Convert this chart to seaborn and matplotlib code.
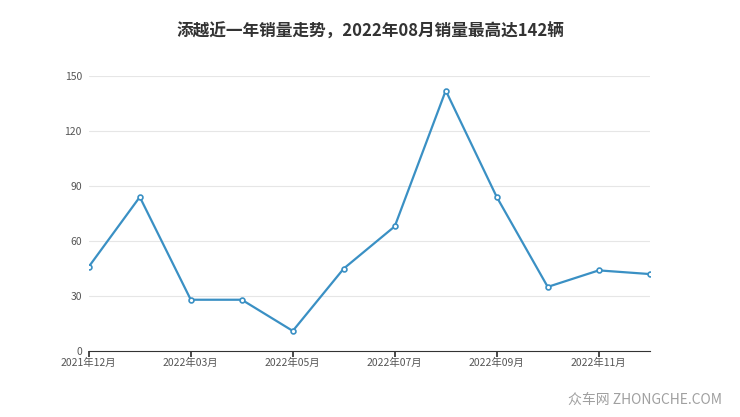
import matplotlib
matplotlib.use('Agg')
import matplotlib.pyplot as plt
import seaborn as sns
import pandas as pd

months = ['2021年12月', '2022年02月', '2022年03月', '2022年04月', '2022年05月', '2022年06月',
          '2022年07月', '2022年08月', '2022年09月', '2022年10月', '2022年11月', '2022年12月']
sales = [46, 84, 28, 28, 11, 45, 68, 142, 84, 35, 44, 42]
tick_labels = ['2021年12月', '2022年03月', '2022年05月', '2022年07月', '2022年09月', '2022年11月']
yticks = [0, 30, 60, 90, 120, 150]

sns.set_theme(style='white')
plt.rcParams['font.family'] = ['Noto Sans CJK SC', 'DejaVu Sans']

df = pd.DataFrame({'idx': range(len(months)), 'sales': sales})

fig = plt.figure(figsize=(7.4, 4.17), dpi=100)
ax = fig.add_axes([0.12, 0.158, 0.758, 0.66])
for y in yticks[1:]:
    ax.axhline(y, color='#e6e6e6', lw=0.8, zorder=0)
sns.lineplot(data=df, x='idx', y='sales', ax=ax, color='#3a90c4', lw=1.6,
             marker='o', markersize=3.5, markerfacecolor='white',
             markeredgecolor='#3a90c4', markeredgewidth=1.2)

ax.set_xlim(0, len(months) - 1)
ax.set_ylim(0, 150)
ax.set_yticks(yticks)
ax.set_xticks(range(0, len(months), 2))
ax.set_xticklabels(tick_labels)
ax.set_xlabel('')
ax.set_ylabel('')
ax.tick_params(axis='both', labelsize=7.5, colors='#555555', length=0, pad=5)
ax.tick_params(axis='x', length=4, color='#333333', direction='out', bottom=True, pad=1)
for s in ['top', 'right', 'left']:
    ax.spines[s].set_visible(False)
ax.spines['bottom'].set_color('#333333')
ax.spines['bottom'].set_linewidth(0.8)

fig.text(0.5, 0.925, '添越近一年销量走势，2022年08月销量最高达142辆', ha='center', va='center',
         fontsize=12, fontweight='bold', color='#333333')
fig.text(0.975, 0.04, '众车网 ZHONGCHE.COM', ha='right', va='center',
         fontsize=10, color='#a0a0a0')

fig.savefig('out.png', dpi=100)
